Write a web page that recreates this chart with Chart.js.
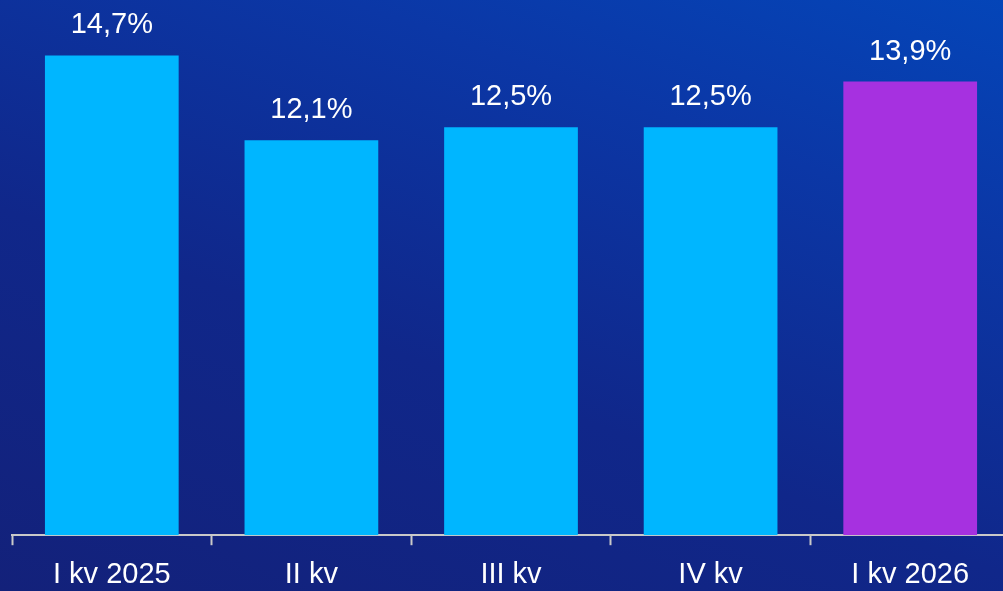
<!DOCTYPE html>
<html>
<head>
<meta charset="utf-8">
<script src="https://cdn.jsdelivr.net/npm/chart.js@4"></script>
<style>
  html, body { margin: 0; padding: 0; overflow: hidden; }
  body {
    width: 1003px; height: 591px;
    background: linear-gradient(20deg, #13217a 0%, #10278a 40%, #0b37a6 75%, #0445b8 100%);
  }
  #wrap { position: relative; width: 1012px; height: 604px; }
</style>
</head>
<body>
<div id="wrap"><canvas id="grafico"></canvas></div>
<script>
const categorias = ['I kv 2025', 'II kv', 'III kv', 'IV kv', 'I kv 2026']
const valores = [14.7, 12.1, 12.5, 12.5, 13.9]
const cores = ['#00b6ff', '#00b6ff', '#00b6ff', '#00b6ff', '#a631e0']

const fonte = '"Liberation Sans", Arial, sans-serif'

// rótulos de valor acima de cada barra
const rotulos = {
  id: 'rotulos',
  afterDatasetsDraw(chart) {
    const ctx = chart.ctx
    const meta = chart.getDatasetMeta(0)
    ctx.save()
    ctx.fillStyle = '#ffffff'
    ctx.font = '29px ' + fonte
    ctx.textAlign = 'center'
    ctx.textBaseline = 'alphabetic'
    meta.data.forEach((bar, i) => {
      const txt = valores[i].toFixed(1).replace('.', ',') + '%'
      ctx.fillText(txt, bar.x, bar.y - 22)
    })
    ctx.restore()
  }
}

var data = {
  labels: categorias,
  datasets: [{
    data: valores,
    backgroundColor: cores,
    borderWidth: 0,
    categoryPercentage: 1,
    barPercentage: 0.67
  }]
}

var config = {
  type: 'bar',
  data: data,
  plugins: [rotulos],
  options: {
    responsive: true,
    maintainAspectRatio: false,
    animation: false,
    layout: { padding: { left: 12, right: 2, top: 0, bottom: 0 } },
    plugins: { legend: { display: false }, tooltip: { enabled: false } },
    scales: {
      y: { display: false, min: 0, max: 16.4 },
      x: {
        border: { display: true, color: '#c9c9c9', width: 2 },
        grid: {
          display: true,
          drawOnChartArea: false,
          drawTicks: true,
          tickLength: 10,
          tickWidth: 2,
          tickColor: '#c9c9c9',
          offset: true
        },
        ticks: {
          color: '#ffffff',
          padding: 12,
          maxRotation: 0,
          font: { family: fonte, size: 29 }
        }
      }
    }
  }
}

var myChart = new Chart(document.getElementById('grafico'), config)
</script>
</body>
</html>
